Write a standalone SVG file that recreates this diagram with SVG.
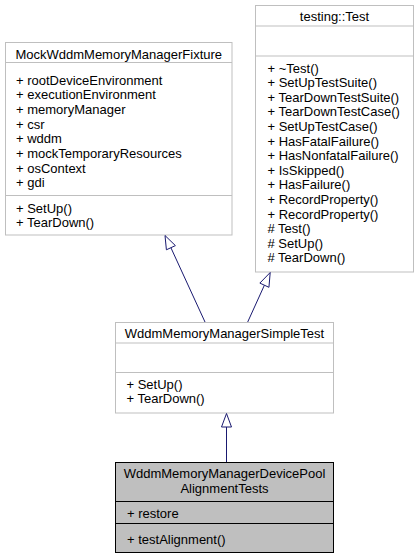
<svg xmlns="http://www.w3.org/2000/svg" width="418" height="559" viewBox="0 0 418 559">
  <style>
    .box { fill: #ffffff; stroke: #bfbfbf; stroke-width: 1; }
    .box-hl { fill: #bfbfbf; stroke: #000000; stroke-width: 1; }
    .div { stroke: #bfbfbf; stroke-width: 1; }
    .div-hl { stroke: #000000; stroke-width: 1; }
    text { font-family: "Liberation Sans", Arial, Helvetica, sans-serif; font-size: 13px; fill: #000000; }
    .title { text-anchor: middle; }
    .edge { fill: none; stroke: #191970; stroke-width: 1; }
    .head { fill: #ffffff; stroke: #191970; stroke-width: 1; }
  </style>

  <!-- base fixture class -->
  <g id="MockWddmMemoryManagerFixture">
    <rect class="box" x="5.5" y="42.5" width="226.5" height="192.5"/>
    <line class="div" x1="5.5" y1="62.5" x2="232" y2="62.5"/>
    <line class="div" x1="5.5" y1="195.5" x2="232" y2="195.5"/>
    <text class="title" x="118.75" y="59">MockWddmMemoryManagerFixture</text>
    <text x="16" y="84.5">+ rootDeviceEnvironment</text>
    <text x="16" y="99.2">+ executionEnvironment</text>
    <text x="16" y="113.9">+ memoryManager</text>
    <text x="16" y="128.6">+ csr</text>
    <text x="16" y="143.3">+ wddm</text>
    <text x="16" y="158">+ mockTemporaryResources</text>
    <text x="16" y="172.7">+ osContext</text>
    <text x="16" y="187.4">+ gdi</text>
    <text x="16" y="212.5">+ SetUp()</text>
    <text x="16" y="227">+ TearDown()</text>
  </g>

  <!-- gtest base class -->
  <g id="testing_Test">
    <rect class="box" x="255.5" y="5.5" width="158" height="266.5"/>
    <line class="div" x1="255.5" y1="26" x2="413.5" y2="26"/>
    <line class="div" x1="255.5" y1="56" x2="413.5" y2="56"/>
    <text class="title" x="334.5" y="21">testing::Test</text>
    <text x="267.5" y="72.5">+ ~Test()</text>
    <text x="267.5" y="87.1">+ SetUpTestSuite()</text>
    <text x="267.5" y="101.7">+ TearDownTestSuite()</text>
    <text x="267.5" y="116.3">+ TearDownTestCase()</text>
    <text x="267.5" y="130.9">+ SetUpTestCase()</text>
    <text x="267.5" y="145.5">+ HasFatalFailure()</text>
    <text x="267.5" y="160.1">+ HasNonfatalFailure()</text>
    <text x="267.5" y="174.7">+ IsSkipped()</text>
    <text x="267.5" y="189.3">+ HasFailure()</text>
    <text x="267.5" y="203.9">+ RecordProperty()</text>
    <text x="267.5" y="218.5">+ RecordProperty()</text>
    <text x="267.5" y="233.1"># Test()</text>
    <text x="267.5" y="247.7"># SetUp()</text>
    <text x="267.5" y="262.3"># TearDown()</text>
  </g>

  <!-- intermediate test class -->
  <g id="WddmMemoryManagerSimpleTest">
    <rect class="box" x="115.5" y="322.5" width="218" height="90.5"/>
    <line class="div" x1="115.5" y1="343" x2="333.5" y2="343"/>
    <line class="div" x1="115.5" y1="372.5" x2="333.5" y2="372.5"/>
    <text class="title" x="224.5" y="338">WddmMemoryManagerSimpleTest</text>
    <text x="126.5" y="388.8">+ SetUp()</text>
    <text x="126.5" y="403">+ TearDown()</text>
  </g>

  <!-- derived test class -->
  <g id="WddmMemoryManagerDevicePoolAlignmentTests">
    <rect class="box-hl" x="115.5" y="462.5" width="218" height="90"/>
    <line class="div-hl" x1="115.5" y1="501.5" x2="333.5" y2="501.5"/>
    <line class="div-hl" x1="115.5" y1="523.5" x2="333.5" y2="523.5"/>
    <text class="title" x="224.5" y="477.8">WddmMemoryManagerDevicePool</text>
    <text class="title" x="224.5" y="492.8">AlignmentTests</text>
    <text x="127" y="517.8">+ restore</text>
    <text x="127" y="543.5">+ testAlignment()</text>
  </g>

  <!-- inheritance connectors -->
  <g id="edges">
    <path class="edge" d="M205,322 L170.9,247.7"/>
    <polygon class="head" points="165,235.5 175.4,245.6 166.4,249.8"/>
    <path class="edge" d="M247.7,322 L264.4,285.2"/>
    <polygon class="head" points="270.2,272.5 268.95,287.3 259.85,283.1"/>
    <path class="edge" d="M226.5,462 L226.5,427"/>
    <polygon class="head" points="226.5,413.5 231.5,427 221.5,427"/>
  </g>
</svg>
